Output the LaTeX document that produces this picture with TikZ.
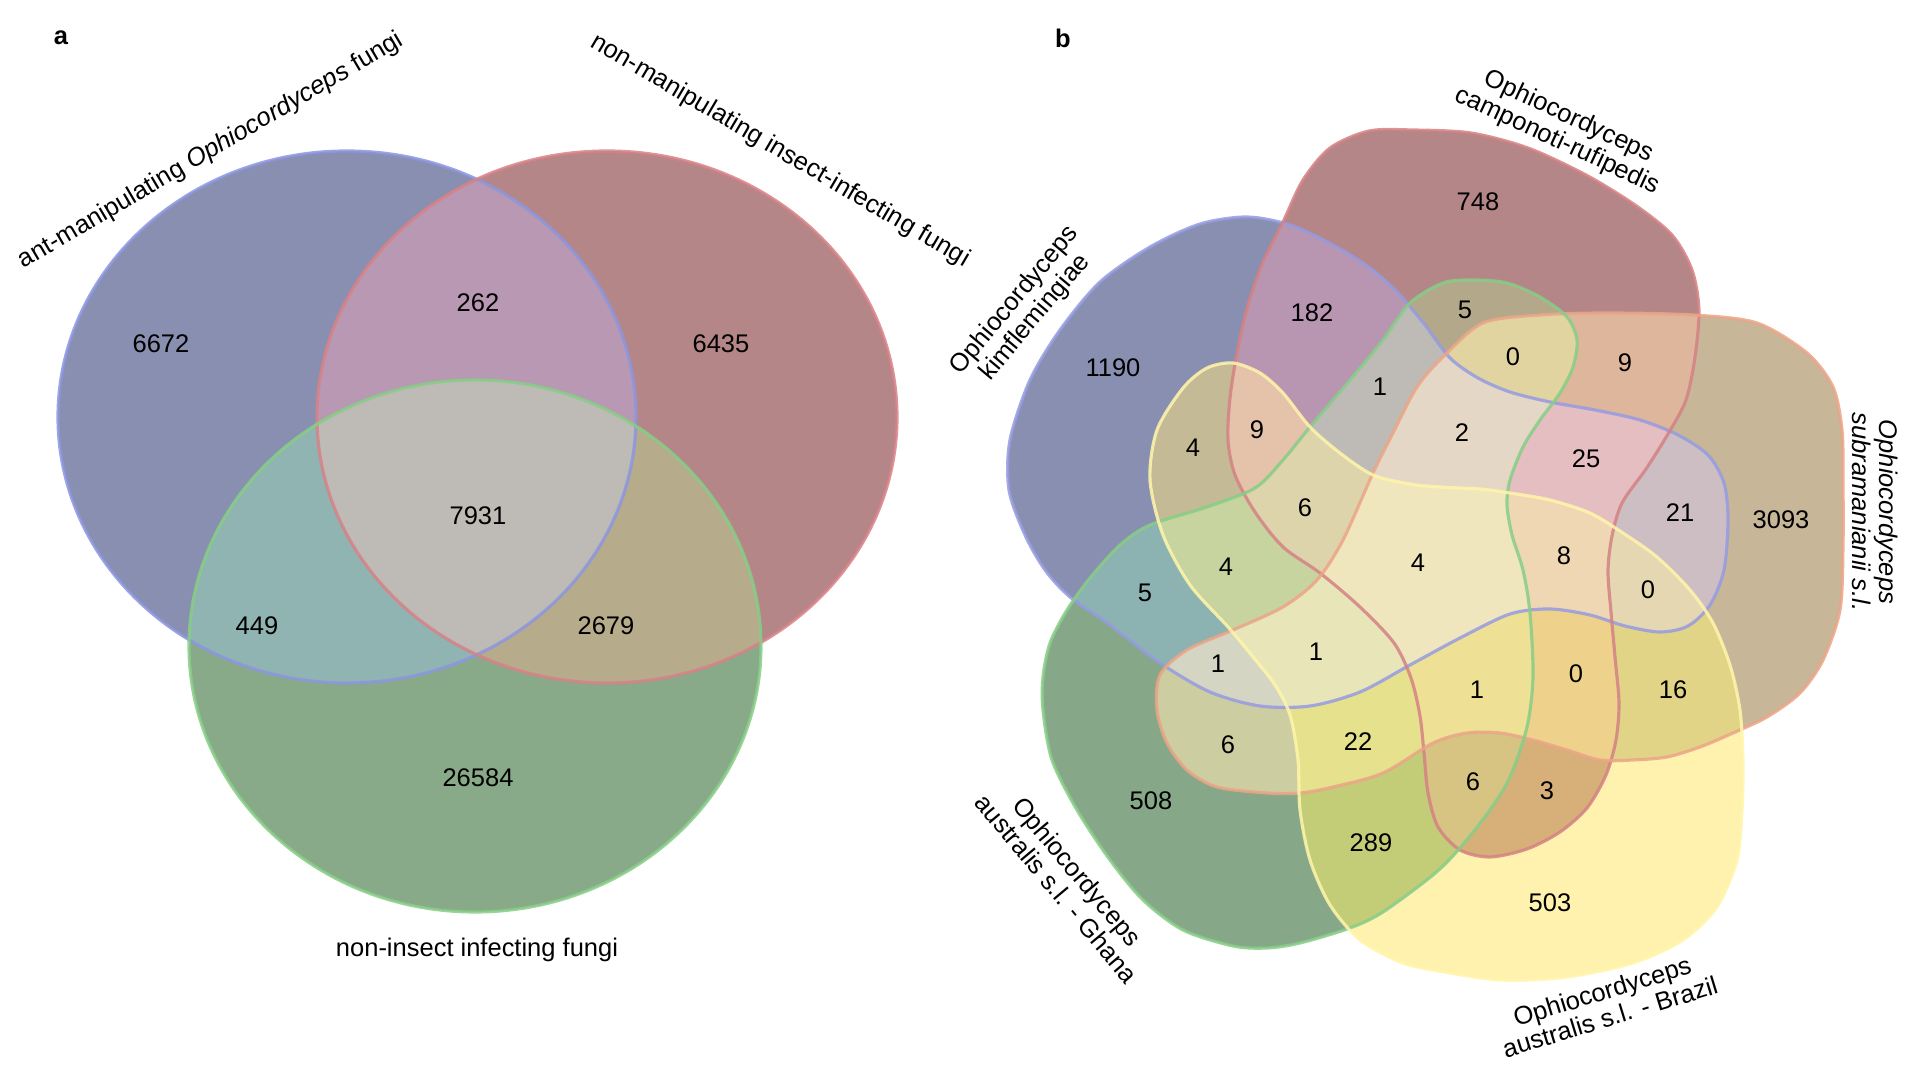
\documentclass[tikz,border=0pt]{standalone}
\usepackage{fontspec}
\setmainfont{Liberation Sans}

% fills of the zones, panel a
\definecolor{venA}{RGB}{136,143,176}
\definecolor{venI}{RGB}{181,134,136}
\definecolor{venN}{RGB}{136,170,136}
\definecolor{venAI}{RGB}{184,152,178}
\definecolor{venAN}{RGB}{143,180,178}
\definecolor{venIN}{RGB}{182,172,140}
\definecolor{venAIN}{RGB}{190,186,182}
% fills of the zones, panel b
\definecolor{venK}{RGB}{136,143,176}
\definecolor{venC}{RGB}{181,134,136}
\definecolor{venS}{RGB}{200,182,153}
\definecolor{venG}{RGB}{135,168,136}
\definecolor{venB}{RGB}{255,242,175}
\definecolor{venKC}{RGB}{184,150,178}
\definecolor{venKS}{RGB}{205,190,195}
\definecolor{venKG}{RGB}{140,178,178}
\definecolor{venKB}{RGB}{196,187,150}
\definecolor{venCS}{RGB}{222,182,155}
\definecolor{venCG}{RGB}{180,168,138}
\definecolor{venCB}{RGB}{215,175,120}
\definecolor{venSG}{RGB}{205,205,162}
\definecolor{venSB}{RGB}{225,212,135}
\definecolor{venGB}{RGB}{195,205,120}
\definecolor{venKCS}{RGB}{228,190,192}
\definecolor{venKCG}{RGB}{190,186,182}
\definecolor{venKCB}{RGB}{228,195,170}
\definecolor{venKSG}{RGB}{212,214,195}
\definecolor{venKSB}{RGB}{228,215,178}
\definecolor{venKGB}{RGB}{200,212,160}
\definecolor{venCSG}{RGB}{225,212,160}
\definecolor{venCSB}{RGB}{238,210,140}
\definecolor{venCGB}{RGB}{215,195,130}
\definecolor{venSGB}{RGB}{230,225,140}
\definecolor{venKCSG}{RGB}{228,215,198}
\definecolor{venKCSB}{RGB}{240,215,180}
\definecolor{venKCGB}{RGB}{222,212,172}
\definecolor{venKSGB}{RGB}{232,230,185}
\definecolor{venCSGB}{RGB}{238,225,150}
\definecolor{venKCSGB}{RGB}{240,230,190}
% outlines
\definecolor{lineA}{RGB}{140,150,222}
\definecolor{lineI}{RGB}{215,130,135}
\definecolor{lineN}{RGB}{135,205,135}
\definecolor{lineK}{RGB}{150,155,225}
\definecolor{lineC}{RGB}{212,130,132}
\definecolor{lineS}{RGB}{235,165,135}
\definecolor{lineG}{RGB}{135,205,135}
\definecolor{lineB}{RGB}{255,245,170}

\def\shA{(347,417) ellipse [x radius=289, y radius=266]}
\def\shI{(607,417) ellipse [x radius=290, y radius=266]}
\def\shN{(475,646) ellipse [x radius=286, y radius=266]}
\def\shK{plot[smooth cycle] coordinates {(1247,217) (1290,225) (1333,245) (1370,268) (1398,293) (1425,325) (1450,358) (1478,378) (1510,392) (1550,402) (1595,410) (1640,420) (1678,435) (1708,455) (1724,483) (1728,520) (1724,570) (1710,605) (1688,626) (1660,632) (1625,626) (1590,615) (1550,609) (1510,614) (1460,638) (1410,665) (1360,692) (1310,706) (1260,706) (1210,692) (1160,663) (1110,625) (1070,597) (1045,570) (1025,535) (1009,490) (1010,440) (1030,380) (1060,330) (1100,282) (1150,247) (1200,224)}}
\def\shC{plot[smooth cycle] coordinates {(1369,131) (1413,130) (1471,133) (1528,148) (1586,175) (1635,205) (1672,235) (1692,270) (1699,310) (1695,357) (1686,400) (1668,434) (1646,469) (1622,503) (1612,536) (1608,571) (1611,612) (1615,657) (1619,703) (1616,740) (1606,775) (1587,808) (1560,832) (1527,849) (1490,857) (1460,850) (1438,827) (1428,793) (1424,753) (1420,716) (1411,678) (1394,643) (1360,607) (1320,573) (1283,547) (1255,512) (1235,475) (1228,440) (1230,398) (1237,353) (1248,305) (1263,262) (1283,222) (1303,180) (1330,148)}}
\def\shS{plot[smooth cycle] coordinates {(1483,323) (1540,315) (1607,313) (1693,315) (1757,323) (1807,353) (1833,387) (1842,430) (1843,480) (1843,547) (1840,610) (1823,660) (1800,693) (1767,717) (1733,733) (1700,747) (1667,757) (1633,760) (1600,760) (1567,750) (1533,740) (1500,733) (1467,733) (1433,743) (1383,773) (1333,787) (1300,793) (1267,793) (1217,787) (1187,770) (1167,743) (1157,710) (1160,675) (1187,650) (1233,630) (1283,607) (1317,580) (1343,540) (1373,473) (1393,433) (1417,387) (1443,357)}}
\def\shG{plot[smooth cycle] coordinates {(1443,283) (1473,280) (1507,283) (1540,297) (1567,317) (1577,340) (1573,367) (1560,393) (1540,420) (1523,447) (1510,480) (1507,505) (1512,535) (1523,570) (1530,613) (1533,677) (1527,727) (1510,777) (1490,810) (1460,848) (1433,875) (1383,912) (1350,928) (1300,943) (1267,948) (1233,946) (1183,930) (1143,900) (1110,860) (1077,810) (1052,760) (1043,710) (1043,677) (1050,643) (1067,610) (1090,578) (1120,545) (1150,525) (1207,507) (1255,488) (1283,460) (1310,427) (1350,380) (1383,340) (1410,303)}}
\def\shB{plot[smooth cycle] coordinates {(1233,363) (1260,373) (1283,393) (1310,427) (1340,453) (1373,475) (1410,484) (1440,487) (1480,489) (1510,493) (1550,500) (1590,513) (1623,533) (1657,557) (1690,590) (1713,623) (1730,665) (1740,710) (1743,760) (1742,810) (1737,860) (1717,907) (1683,940) (1633,963) (1567,977) (1500,980) (1433,970) (1400,962) (1360,940) (1330,905) (1310,860) (1300,810) (1298,760) (1290,715) (1275,685) (1253,657) (1228,627) (1190,585) (1163,535) (1150,480) (1157,430) (1183,388) (1207,368)}}

% clip to every set named by a string of letters
\def\clipeach#1{\ifx#1\relax\else\expandafter\clip\csname sh#1\endcsname;\expandafter\clipeach\fi}

\begin{document}
\begin{tikzpicture}[x=0.01cm, y=-0.01cm,
    num/.style={font=\fontsize{7.25}{7.6}\selectfont},
    setname/.style={num, align=center},
    tag/.style={font=\fontsize{7.25}{7.6}\selectfont\bfseries},
    edge/.style={line width=0.9pt, draw opacity=0.85}]
\useasboundingbox (0,0) rectangle (1920,1080);

% panel a
\foreach \ids/\col in {A/venA, I/venI, N/venN, AI/venAI, AN/venAN, IN/venIN, AIN/venAIN}{
    \begin{scope}
        \expandafter\clipeach\ids\relax
        \fill[\col] (0,0) rectangle (1920,1080);
    \end{scope}
}
\draw[edge, lineA] \shA;
\draw[edge, lineI] \shI;
\draw[edge, lineN] \shN;

\node[tag] (tagA) at (61,38) {a};
\node[num, rotate=30.5] (labAnt) at (211,151) {ant-manipulating \textit{Ophiocordyceps} fungi};
\node[num, rotate=-30.5] (labIns) at (780,151) {non-manipulating insect-infecting fungi};
\node[num] (labNon) at (477,950) {non-insect infecting fungi};
\node[num] (n6672) at (161,344) {6672};
\node[num] (n262) at (478,303) {262};
\node[num] (n6435) at (721,344) {6435};
\node[num] (n7931) at (478,516) {7931};
\node[num] (n449) at (257,626) {449};
\node[num] (n2679) at (606,626) {2679};
\node[num] (n26584) at (478,778) {26584};

% panel b
\foreach \ids/\col in {K/venK, C/venC, S/venS, G/venG, B/venB,
    KC/venKC, KS/venKS, KG/venKG, KB/venKB, CS/venCS, CG/venCG, CB/venCB, SG/venSG, SB/venSB, GB/venGB,
    KCS/venKCS, KCG/venKCG, KCB/venKCB, KSG/venKSG, KSB/venKSB, KGB/venKGB, CSG/venCSG, CSB/venCSB, CGB/venCGB, SGB/venSGB,
    KCSG/venKCSG, KCSB/venKCSB, KCGB/venKCGB, KSGB/venKSGB, CSGB/venCSGB, KCSGB/venKCSGB}{
    \begin{scope}
        \expandafter\clipeach\ids\relax
        \fill[\col] (0,0) rectangle (1920,1080);
    \end{scope}
}
\draw[edge, lineK] \shK;
\draw[edge, lineC] \shC;
\draw[edge, lineS] \shS;
\draw[edge, lineG] \shG;
\draw[edge, lineB] \shB;

\node[tag] (tagB) at (1063,38) {b};
\node[setname, rotate=50] (labK) at (1025,309) {Ophiocordyceps\\kimflemingiae};
\node[setname, rotate=-25] (labC) at (1563,129) {Ophiocordyceps\\camponoti-rufipedis};
\node[setname, rotate=-90, font=\fontsize{7.25}{7.6}\selectfont\itshape] (labS) at (1875,512) {Ophiocordyceps\\subramanianii s.l.};
\node[setname, rotate=17] (labB) at (1606,1004) {Ophiocordyceps\\australis s.l. - Brazil};
\node[setname, rotate=-50] (labG) at (1067,880) {Ophiocordyceps\\australis s.l. - Ghana};

\node[num] (n1190) at (1113,368) {1190};
\node[num] (n182) at (1312,313) {182};
\node[num] (n748) at (1478,202) {748};
\node[num] (n5cg) at (1465,310) {5};
\node[num] (n0csg) at (1513,357) {0};
\node[num] (n9cs) at (1625,363) {9};
\node[num] (n1kcg) at (1380,387) {1};
\node[num] (n4kb) at (1193,448) {4};
\node[num] (n9kcb) at (1257,430) {9};
\node[num] (n2) at (1462,433) {2};
\node[num] (n25) at (1586,459) {25};
\node[num] (n21) at (1680,513) {21};
\node[num] (n3093) at (1781,520) {3093};
\node[num] (n6kcgb) at (1305,508) {6};
\node[num] (n4kgb) at (1226,567) {4};
\node[num] (n4all) at (1418,563) {4};
\node[num] (n8) at (1564,556) {8};
\node[num] (n0ksb) at (1648,590) {0};
\node[num] (n5kg) at (1145,593) {5};
\node[num] (n1ksg) at (1218,664) {1};
\node[num] (n1ksgb) at (1316,652) {1};
\node[num] (n1csgb) at (1477,690) {1};
\node[num] (n0csb) at (1576,674) {0};
\node[num] (n16) at (1673,690) {16};
\node[num] (n6sg) at (1228,745) {6};
\node[num] (n22) at (1358,742) {22};
\node[num] (n508) at (1151,801) {508};
\node[num] (n6cgb) at (1473,782) {6};
\node[num] (n3) at (1547,791) {3};
\node[num] (n289) at (1371,843) {289};
\node[num] (n503) at (1550,903) {503};
\end{tikzpicture}
\end{document}
